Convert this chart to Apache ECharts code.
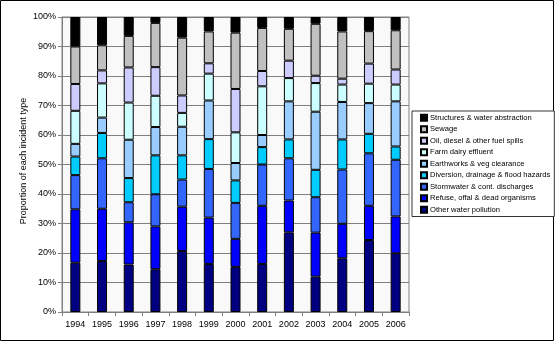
<!DOCTYPE html>
<html>
<head>
<meta charset="utf-8">
<script src="https://cdn.jsdelivr.net/npm/echarts@6/dist/echarts.min.js"></script>
<style>
  html, body { margin: 0; padding: 0; background: #fff; }
  #chart { width: 555px; height: 342px; }
</style>
</head>
<body>
<div id="chart"></div>
<script>
// Years on the category axis
const years = ['1994','1995','1996','1997','1998','1999','2000','2001','2002','2003','2004','2005','2006'];

// Share of incidents (%) per type, stacked bottom to top
const otherWaterPollution = [16.7, 17.3, 16.1, 14.5, 20.7, 16.3, 15.3, 16.3, 27.0, 12.0, 18.2, 24.4, 19.9];
const refuseOffal        = [18.1, 17.7, 14.3, 14.5, 15.0, 15.7,  9.5, 19.7, 10.8, 14.9, 11.7, 11.6, 12.5];
const stormwater         = [11.6, 17.1,  6.8, 10.9,  9.2, 16.5, 12.2, 14.0, 14.3, 12.0, 18.4, 17.8, 19.2];
const diversion          = [ 6.3,  8.6,  8.2, 13.2,  8.2, 10.1,  7.6,  5.9,  6.4,  9.3, 10.2,  6.6,  4.5];
const earthworks         = [ 4.3,  5.2, 13.0,  9.6,  9.7, 13.1,  5.9,  4.1, 12.9, 19.7, 12.7, 10.4, 15.3];
const farmDairy          = [11.2, 11.6, 12.6, 10.6,  4.7,  9.1, 10.4, 16.5,  7.9,  9.7,  5.9,  6.6,  5.7];
const oilFuelSpills      = [ 9.1,  4.4, 11.9,  9.7,  5.9,  3.5, 14.7,  5.2,  5.9,  2.5,  2.0,  6.8,  5.1];
const sewage             = [12.7,  8.5, 10.7, 15.0, 19.6, 10.8, 19.1, 14.6, 10.8, 17.6, 16.0, 11.0, 13.3];
const structures         = [10.0,  9.6,  6.4,  2.0,  7.0,  4.9,  5.3,  3.7,  4.0,  2.3,  4.9,  4.8,  4.5];

// Axis ticks
const yTicks = [0, 10, 20, 30, 40, 50, 60, 70, 80, 90, 100];
const yTitle = 'Proportion of each incident type';

const seriesDefs = [
  { name: 'Other water pollution', data: otherWaterPollution, color: '#000080' },
  { name: 'Refuse, offal & dead organisms', data: refuseOffal, color: '#0000FF' },
  { name: 'Stormwater & cont. discharges', data: stormwater, color: '#3366FF' },
  { name: 'Diversion, drainage & flood hazards', data: diversion, color: '#00CCFF' },
  { name: 'Earthworks & veg clearance', data: earthworks, color: '#99CCFF' },
  { name: 'Farm dairy effluent', data: farmDairy, color: '#CCFFFF' },
  { name: 'Oil, diesel & other fuel spills', data: oilFuelSpills, color: '#CCCCFF' },
  { name: 'Sewage', data: sewage, color: '#C0C0C0' },
  { name: 'Structures & water abstraction', data: structures, color: '#000000' }
];

const font = 'Liberation Sans, Arial, sans-serif';
const chart = echarts.init(document.getElementById('chart'), null, { renderer: 'canvas' });

chart.setOption({
  animation: false,
  backgroundColor: '#ffffff',
  textStyle: { fontFamily: font },
  graphic: [
    {
      type: 'rect',
      shape: { x: 0.5, y: 0.5, width: 553, height: 340 },
      style: { fill: 'none', stroke: '#000', lineWidth: 1 },
      silent: true
    },
    {
      // vertical axis title
      type: 'text',
      x: 24, y: 161,
      rotation: Math.PI / 2,
      style: { text: yTitle, font: '9px ' + font, fill: '#000', align: 'center', verticalAlign: 'middle' },
      silent: true
    }
  ],
  grid: {
    left: 62, top: 17, right: 146, bottom: 30,
    show: true,
    backgroundColor: '#f9f9f9',
    borderColor: '#808080',
    borderWidth: 1
  },
  legend: {
    orient: 'vertical',
    left: 412, top: 111,
    padding: [1, 4, 1, 8],
    backgroundColor: '#ffffff',
    borderColor: '#333333',
    borderWidth: 1,
    itemWidth: 6, itemHeight: 6,
    itemGap: 0,
    icon: 'rect',
    textStyle: { fontFamily: font, fontSize: 7.6, color: '#000', lineHeight: 11.5, padding: [0, 0, 0, -2] },
    data: seriesDefs.map(s => s.name).reverse()
  },
  xAxis: {
    type: 'category',
    data: years,
    axisLine: { lineStyle: { color: '#808080' } },
    axisTick: { show: true, alignWithLabel: false, length: 4, lineStyle: { color: '#808080' } },
    axisLabel: { color: '#000', fontSize: 9, fontFamily: font, margin: 8, interval: 0 },
    splitLine: { show: false }
  },
  yAxis: {
    type: 'value',
    min: yTicks[0], max: yTicks[yTicks.length - 1], interval: 10,
    axisLine: { show: true, lineStyle: { color: '#808080' } },
    axisTick: { show: true, inside: false, length: 4, lineStyle: { color: '#808080' } },
    axisLabel: { color: '#000', fontSize: 9, fontFamily: font, margin: 6, formatter: '{value}%' },
    splitLine: { show: true, lineStyle: { color: '#808080', width: 1 } }
  },
  series: seriesDefs.map(s => ({
    name: s.name,
    type: 'bar',
    stack: 'total',
    barWidth: 10,
    data: s.data,
    itemStyle: { color: s.color, borderColor: '#000', borderWidth: 1 }
  }))
});
</script>
</body>
</html>
